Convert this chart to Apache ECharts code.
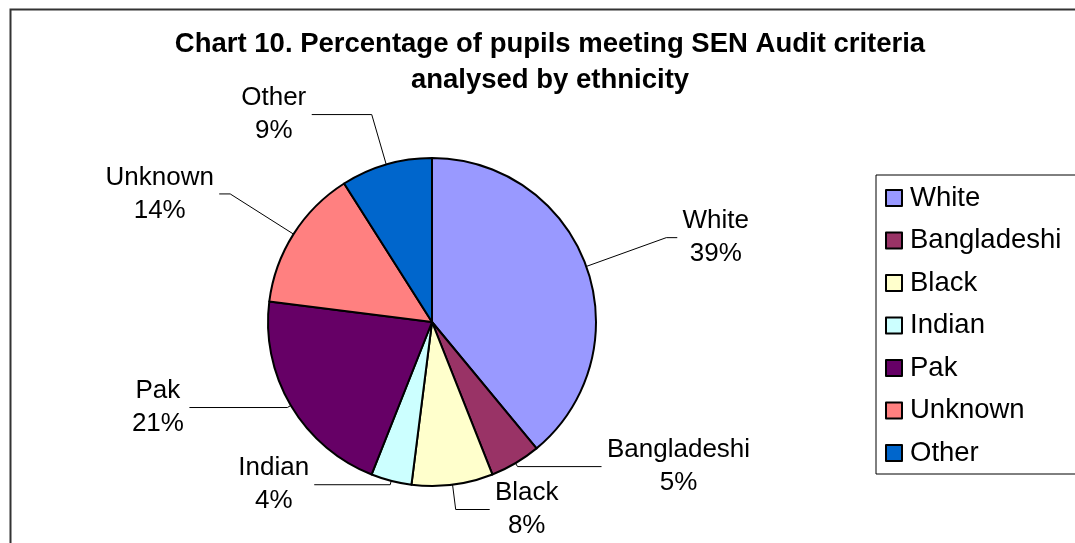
<!DOCTYPE html>
<html>
<head>
<meta charset="utf-8">
<script src="https://cdn.jsdelivr.net/npm/echarts@6/dist/echarts.min.js"></script>
<style>
html,body{margin:0;padding:0;background:#fff;}
#main{width:1075px;height:543px;}
</style>
</head>
<body>
<div id="main"></div>
<script>
const titleText = 'Chart 10. Percentage of pupils meeting SEN Audit criteria\nanalysed by ethnicity';
const categories = ['White', 'Bangladeshi', 'Black', 'Indian', 'Pak', 'Unknown', 'Other'];
const values = [39, 5, 8, 4, 21, 14, 9];
const colors = ['#9999FF', '#993366', '#FFFFCC', '#CCFFFF', '#660066', '#FF8080', '#0066CC'];

// leader line layout per slice [length, length2]
const leaderLen = [[85, 11], [4, 84], [25, 34], [4, 76], [4, 98], [75, 11], [52, 60]];

const FONT = '"Liberation Sans", Arial, sans-serif';
const labelSize = 26;
const ctx = document.createElement('canvas').getContext('2d');
ctx.font = labelSize + 'px ' + FONT;
function w(t) { return Math.ceil(ctx.measureText(t).width); }

const total = values.reduce((a, b) => a + b, 0);
const seriesData = categories.map((name, i) => {
  const pct = Math.round(values[i] / total * 100) + '%';
  const width = Math.max(w(name), w(pct));
  return {
    name: name,
    value: values[i],
    itemStyle: { color: colors[i] },
    label: { rich: { c: { width: width, align: 'center', fontSize: labelSize, fontFamily: FONT, color: '#000', lineHeight: 33 } } },
    labelLine: { length: leaderLen[i][0], length2: leaderLen[i][1] }
  };
});

const chart = echarts.init(document.getElementById('main'), null, { renderer: 'canvas' });
chart.setOption({
  animation: false,
  backgroundColor: '#fff',
  title: {
    text: titleText,
    left: 545,
    top: 21,
    textAlign: 'center',
    textStyle: { fontFamily: FONT, fontWeight: 'bold', fontSize: 27.5, lineHeight: 36, color: '#000' }
  },
  graphic: [{
    type: 'rect', left: 8, top: 7, z: -1,
    shape: { x: 0, y: 0, width: 1200, height: 700 },
    style: { fill: 'none', stroke: '#333', lineWidth: 2 }
  }],
  legend: {
    orient: 'vertical',
    left: 876,
    top: 175,
    itemWidth: 16,
    itemHeight: 16,
    itemGap: 14.5,
    padding: [9, 30, 7, 9],
    borderColor: '#000',
    borderWidth: 1,
    icon: 'rect',
    itemStyle: { borderColor: '#000', borderWidth: 2 },
    textStyle: { fontFamily: FONT, fontSize: 27.5, color: '#000', padding: [0, 0, 0, 3], lineHeight: 28 },
    data: categories
  },
  series: [{
    type: 'pie',
    center: [432, 322],
    radius: 164,
    startAngle: 90,
    clockwise: true,
    avoidLabelOverlap: false,
    itemStyle: { borderColor: '#000', borderWidth: 2 },
    label: {
      show: true,
      position: 'outside',
      formatter: '{c|{b}}\n{c|{d}%}',
      fontFamily: FONT,
      fontSize: labelSize,
      color: '#000'
    },
    labelLine: { show: true, smooth: false, lineStyle: { color: '#000', width: 1 } },
    emphasis: { disabled: true },
    data: seriesData
  }]
});
</script>
</body>
</html>
